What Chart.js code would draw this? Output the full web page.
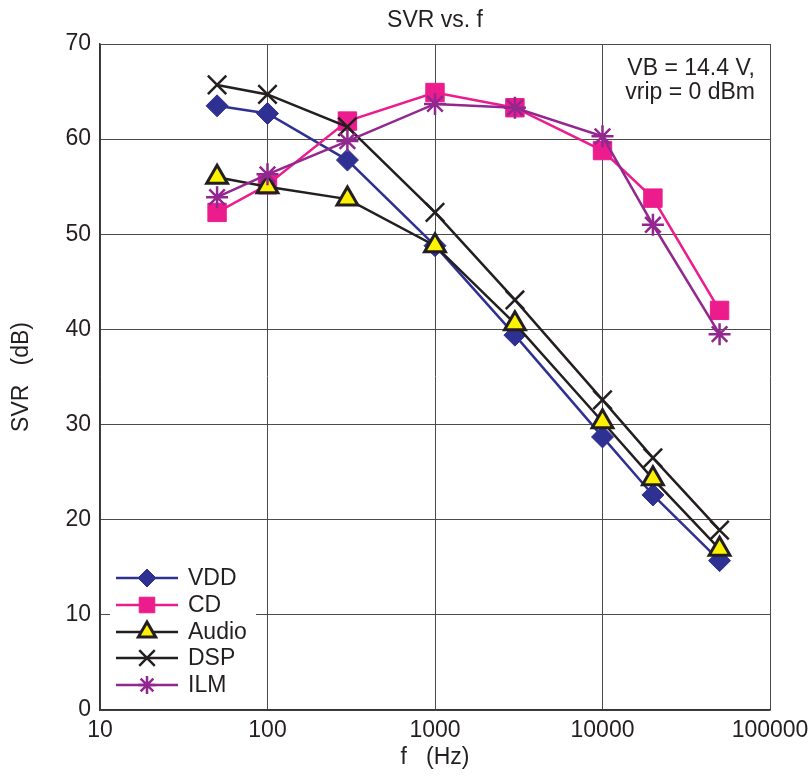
<!DOCTYPE html>
<html>
<head>
<meta charset="utf-8">
<script src="https://cdn.jsdelivr.net/npm/chart.js@4/dist/chart.umd.min.js"></script>
<style>
  body { margin: 0; background: #fff; }
</style>
</head>
<body>
<canvas id="svrChart" width="812" height="776"></canvas>
<script>
// frequencies (Hz)
const freqs = [50, 100, 300, 1000, 3000, 10000, 20000, 50000];

// SVR (dB) per supply
const vdd   = [63.5, 62.7, 57.8, 48.8, 39.4, 28.7, 22.6, 15.7];
const cd    = [52.3, 55.2, 61.9, 64.9, 63.3, 58.8, 53.8, 42.0];
const audio = [56.0, 55.0, 53.7, 48.8, 40.6, 30.3, 24.3, 16.9];
const dsp   = [65.7, 64.7, 61.3, 52.3, 43.1, 32.6, 26.5, 18.9];
const ilm   = [53.9, 56.3, 59.8, 63.7, 63.3, 60.3, 51.0, 39.5];

const xTicks = [10, 100, 1000, 10000, 100000];
const seriesNames = ["VDD", "CD", "Audio", "DSP", "ILM"];

const FONT = "'Liberation Sans', Arial, sans-serif";
const TEXT = "#231f20";

function pts(vals) {
  return freqs.map((f, i) => ({ x: f, y: vals[i] }));
}

const datasets = [
  { label: seriesNames[0], data: pts(vdd), borderColor: "#2e3192", backgroundColor: "#2e3192",
    pointStyle: "rectRot", pointRadius: 11, pointBorderWidth: 1, order: 5 },
  { label: seriesNames[1], data: pts(cd), borderColor: "#ec1c8c", backgroundColor: "#ec1c8c",
    pointStyle: "rect", pointRadius: 13, pointBorderWidth: 1, order: 4 },
  { label: seriesNames[2], data: pts(audio), borderColor: "#231f20", backgroundColor: "#fff200",
    pointStyle: "triangle", pointRadius: 12, pointBorderWidth: 3, order: 3 },
  { label: seriesNames[3], data: pts(dsp), borderColor: "#231f20", backgroundColor: "#231f20",
    pointStyle: "crossRot", pointRadius: 13, pointBorderWidth: 2.5, order: 2 },
  { label: seriesNames[4], data: pts(ilm), borderColor: "#92278f", backgroundColor: "#92278f",
    pointStyle: "star", pointRadius: 11, pointBorderWidth: 2.5, order: 1 }
];
datasets.forEach(d => {
  d.borderWidth = 2.5;
  d.pointBorderColor = d.borderColor;
  d.pointBackgroundColor = d.backgroundColor;
  d.tension = 0;
});

// title, note and the legend inside the plot
const extras = {
  id: "extras",
  afterDraw(chart) {
    const ctx = chart.ctx;
    const a = chart.chartArea;
    ctx.save();
    ctx.fillStyle = TEXT;
    ctx.font = "23px " + FONT;
    ctx.textBaseline = "middle";
    ctx.textAlign = "center";
    ctx.fillText("SVR vs. f", (a.left + a.right) / 2, 21);

    ctx.textAlign = "right";
    ctx.fillText("VB = 14.4 V,", 755, 69);
    ctx.fillText("vrip = 0 dBm", 755, 93);

    // legend box
    ctx.fillStyle = "#fff";
    ctx.fillRect(a.left + 10, 556, 146, 146);
    const rowY = [578, 605, 632, 658, 685];
    chart.data.datasets.forEach((d, i) => {
      const y = rowY[i];
      ctx.strokeStyle = d.borderColor;
      ctx.lineWidth = 2.5;
      ctx.beginPath();
      ctx.moveTo(116, y);
      ctx.lineTo(178, y);
      ctx.stroke();
      ctx.fillStyle = d.backgroundColor;
      ctx.lineWidth = d.pointBorderWidth;
      Chart.helpers.drawPoint(ctx, {
        pointStyle: d.pointStyle,
        radius: d.pointRadius - 2,
        rotation: 0,
        borderWidth: d.pointBorderWidth
      }, 147, y);
      ctx.fillStyle = TEXT;
      ctx.textAlign = "left";
      ctx.fillText(d.label, 188, y + 1);
    });
    ctx.restore();
  }
};

new Chart(document.getElementById("svrChart"), {
  type: "line",
  data: { datasets: datasets },
  options: {
    responsive: false,
    animation: false,
    layout: { padding: { top: 44, right: 42, left: 0, bottom: 0 } },
    plugins: {
      legend: { display: false },
      tooltip: { enabled: false }
    },
    scales: {
      x: {
        type: "logarithmic",
        min: 10,
        max: 100000,
        afterBuildTicks: s => { s.ticks = xTicks.map(v => ({ value: v })); },
        afterFit: s => { s.height = 66; s.paddingRight = 0; s.paddingLeft = 0; },
        ticks: {
          callback: v => String(v),
          color: TEXT,
          font: { family: FONT, size: 23 },
          padding: 7,
          maxRotation: 0,
          autoSkip: false
        },
        grid: { color: "#4a4a4a", lineWidth: 1, drawTicks: false },
        border: { color: "#333", width: 1.5 },
        title: {
          display: true,
          text: "f   (Hz)",
          color: TEXT,
          font: { family: FONT, size: 23 },
          padding: { top: 0, bottom: 5 }
        }
      },
      y: {
        min: 0,
        max: 70,
        afterFit: s => { s.width = 100; },
        ticks: {
          stepSize: 10,
          color: TEXT,
          font: { family: FONT, size: 23 },
          padding: 9
        },
        grid: { color: "#4a4a4a", lineWidth: 1, drawTicks: false },
        border: { color: "#333", width: 1.5 },
        title: {
          display: true,
          text: "SVR   (dB)",
          color: TEXT,
          font: { family: FONT, size: 23 },
          padding: { top: 8, bottom: 0 }
        }
      }
    }
  },
  plugins: [extras]
});
</script>
</body>
</html>
